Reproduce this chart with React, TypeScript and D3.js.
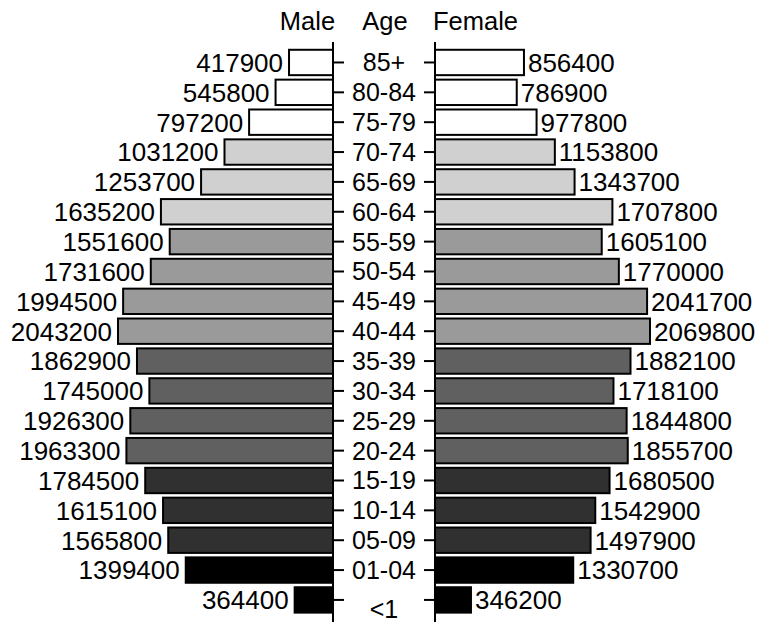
import React, { useEffect, useRef } from 'react';
import * as d3 from 'd3';

const ageGroups = ['85+', '80-84', '75-79', '70-74', '65-69', '60-64', '55-59', '50-54', '45-49', '40-44', '35-39', '30-34', '25-29', '20-24', '15-19', '10-14', '05-09', '01-04', '<1'];
const maleValues = [417900, 545800, 797200, 1031200, 1253700, 1635200, 1551600, 1731600, 1994500, 2043200, 1862900, 1745000, 1926300, 1963300, 1784500, 1615100, 1565800, 1399400, 364400];
const femaleValues = [856400, 786900, 977800, 1153800, 1343700, 1707800, 1605100, 1770000, 2041700, 2069800, 1882100, 1718100, 1844800, 1855700, 1680500, 1542900, 1497900, 1330700, 346200];
// one shade per age block, oldest to youngest
const groupColors = ['#ffffff', '#ffffff', '#ffffff', '#d0d0d0', '#d0d0d0', '#d0d0d0', '#9a9a9a', '#9a9a9a', '#9a9a9a', '#9a9a9a', '#606060', '#606060', '#606060', '#606060', '#303030', '#303030', '#303030', '#000000', '#000000'];

export default function App() {
  const svgRef = useRef<SVGSVGElement>(null);

  useEffect(() => {
    document.body.style.margin = '0';
    if (!svgRef.current) return;
    const svg = d3.select(svgRef.current);
    svg.selectAll('*').remove();

    const width = 757;
    const height = 622;
    const leftAxis = 333;
    const rightAxis = 435;
    const font = '"Liberation Sans", Arial, sans-serif';

    const rows = ageGroups.map((age, i) => ({
      age,
      male: maleValues[i],
      female: femaleValues[i],
      color: groupColors[i],
    }));

    const y = d3.scaleBand<string>()
      .domain(ageGroups)
      .range([45.3, 617.1])
      .padding(0.15);

    const xMale = d3.scaleLinear().domain([0, 2043200]).range([leftAxis, 118]);
    const xFemale = d3.scaleLinear().domain([0, 2069800]).range([rightAxis, 650]);

    // male bars
    svg.append('g')
      .selectAll('rect')
      .data(rows)
      .join('rect')
      .attr('x', d => xMale(d.male))
      .attr('y', d => y(d.age)!)
      .attr('width', d => leftAxis - xMale(d.male))
      .attr('height', y.bandwidth())
      .attr('fill', d => d.color)
      .attr('stroke', '#000')
      .attr('stroke-width', 2);

    // female bars
    svg.append('g')
      .selectAll('rect')
      .data(rows)
      .join('rect')
      .attr('x', rightAxis)
      .attr('y', d => y(d.age)!)
      .attr('width', d => xFemale(d.female) - rightAxis)
      .attr('height', y.bandwidth())
      .attr('fill', d => d.color)
      .attr('stroke', '#000')
      .attr('stroke-width', 2);

    // value labels
    svg.append('g')
      .selectAll('text')
      .data(rows)
      .join('text')
      .attr('x', d => xMale(d.male) - 6)
      .attr('y', d => y(d.age)! + y.bandwidth() / 2)
      .attr('dy', '0.36em')
      .attr('text-anchor', 'end')
      .attr('font-family', font)
      .attr('font-size', 26)
      .text(d => d.male);

    svg.append('g')
      .selectAll('text')
      .data(rows)
      .join('text')
      .attr('x', d => xFemale(d.female) + 4)
      .attr('y', d => y(d.age)! + y.bandwidth() / 2)
      .attr('dy', '0.36em')
      .attr('text-anchor', 'start')
      .attr('font-family', font)
      .attr('font-size', 26)
      .text(d => d.female);

    // axes
    const leftG = svg.append('g')
      .attr('transform', `translate(${leftAxis},0)`)
      .call(d3.axisRight(y).tickSize(11).tickSizeOuter(0).tickFormat(() => '').offset(0));
    const rightG = svg.append('g')
      .attr('transform', `translate(${rightAxis},0)`)
      .call(d3.axisLeft(y).tickSize(11).tickSizeOuter(0).tickFormat(() => '').offset(0));
    [leftG, rightG].forEach(g => {
      g.select('.domain').remove();
      g.selectAll('line').attr('stroke', '#000').attr('stroke-width', 2);
    });
    [leftAxis, rightAxis].forEach(x => {
      svg.append('line')
        .attr('x1', x).attr('x2', x)
        .attr('y1', 42).attr('y2', height)
        .attr('stroke', '#000')
        .attr('stroke-width', 2);
    });

    // age labels
    svg.append('g')
      .selectAll('text')
      .data(rows)
      .join('text')
      .attr('x', (leftAxis + rightAxis) / 2)
      .attr('y', d => y(d.age)! + y.bandwidth() / 2 + (d.age === '<1' ? 9 : 0))
      .attr('dy', '0.36em')
      .attr('text-anchor', 'middle')
      .attr('font-family', font)
      .attr('font-size', 25)
      .text(d => d.age);

    // headers
    const headers = [
      { label: 'Male', x: 307.5, anchor: 'middle' },
      { label: 'Age', x: 385, anchor: 'middle' },
      { label: 'Female', x: 433, anchor: 'start' },
    ];
    svg.append('g')
      .selectAll('text')
      .data(headers)
      .join('text')
      .attr('x', d => d.x)
      .attr('y', 30)
      .attr('text-anchor', d => d.anchor)
      .attr('font-family', font)
      .attr('font-size', 25.5)
      .text(d => d.label);

    svg.attr('width', width).attr('height', height);
  }, []);

  return (
    <div>
      <svg ref={svgRef} width={757} height={622} style={{ display: 'block', background: '#fff' }}></svg>
    </div>
  );
}
